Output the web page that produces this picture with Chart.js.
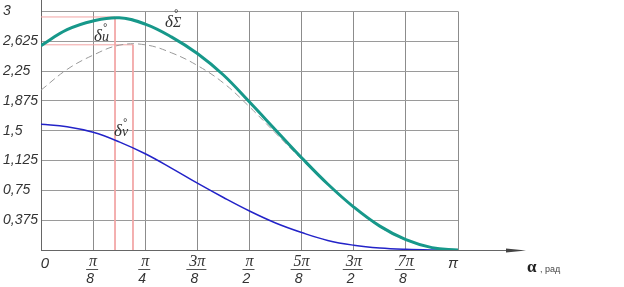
<!DOCTYPE html>
<html>
<head>
<meta charset="utf-8">
<script src="https://cdn.jsdelivr.net/npm/chart.js@4"></script>
<style>
  html, body { margin: 0; padding: 0; background: #fff; }
  #wrap { width: 624px; height: 287px; }
</style>
</head>
<body>
<div id="wrap"><canvas id="grafik"></canvas></div>
<script>
// angle alpha, in units of pi
const alpha = [0, 0.0625, 0.125, 0.1875, 0.25, 0.3125, 0.375, 0.4375, 0.5,
               0.5625, 0.625, 0.6875, 0.75, 0.8125, 0.875, 0.9375, 1];

const deltaSum = [2.57, 2.77, 2.88, 2.92, 2.84, 2.68, 2.47, 2.20, 1.86,
                  1.51, 1.16, 0.83, 0.54, 0.30, 0.13, 0.03, 0];
const deltaU   = [2.01, 2.27, 2.45, 2.575, 2.58, 2.48, 2.32, 2.10, 1.80,
                  1.47, 1.14, 0.82, 0.535, 0.29, 0.125, 0.03, 0];
const deltaV   = [1.58, 1.55, 1.48, 1.36, 1.21, 1.03, 0.84, 0.66, 0.49,
                  0.34, 0.22, 0.12, 0.06, 0.025, 0.008, 0.001, 0];

// pink helper lines to the maxima
const maxSum = [0.1775, 2.93];
const maxU   = [0.2206, 2.58];

// x ticks
const xTicks = [0, 0.125, 0.25, 0.375, 0.5, 0.625, 0.75, 0.875, 1];
const xNum   = ['0', 'π', 'π', '3π', 'π', '5π', '3π', '7π', 'π'];
const xDen   = ['', '8', '4', '8', '2', '8', '2', '8', ''];

// y ticks
const yTicks = [0, 0.375, 0.75, 1.125, 1.5, 1.875, 2.25, 2.625, 3];

function pts(ys) {
    return alpha.map(function(a, i) { return { x: a, y: ys[i] }; });
}

function helper(m) {
    return [{ x: 0, y: m[1] }, { x: m[0], y: m[1] }, { x: m[0], y: 0 }];
}

const decor =
{
    id: 'decor',
    afterDraw: function(chart)
    {
        const ctx = chart.ctx;
        const xs = chart.scales.x, ys = chart.scales.y;
        const area = chart.chartArea;
        const y0 = Math.round(ys.getPixelForValue(0)) + 0.5;

        ctx.save();

        // y axis goes a bit above the grid
        ctx.strokeStyle = '#666';
        ctx.lineWidth = 1;
        ctx.beginPath();
        ctx.moveTo(Math.round(area.left) + 0.5, area.top);
        ctx.lineTo(Math.round(area.left) + 0.5, 0);
        ctx.stroke();

        // x axis with arrow
        ctx.beginPath();
        ctx.moveTo(area.right, y0);
        ctx.lineTo(512, y0);
        ctx.stroke();
        ctx.fillStyle = '#444';
        ctx.beginPath();
        ctx.moveTo(526, y0);
        ctx.lineTo(506, y0 - 2);
        ctx.lineTo(506, y0 + 2);
        ctx.closePath();
        ctx.fill();

        // x tick labels as fractions
        ctx.fillStyle = '#333';
        ctx.strokeStyle = '#555';
        ctx.textAlign = 'center';
        ctx.textBaseline = 'alphabetic';
        for (let i = 0; i < xTicks.length; i++)
        {
            let px = xs.getPixelForValue(xTicks[i]);
            if (xDen[i] === '')
            {
                if (i === 0) px += 4; else px -= 5;
                ctx.font = 'italic 15px "Liberation Sans"';
                ctx.fillText(xNum[i], px, 268);
                continue;
            }
            ctx.font = 'italic 16px "Liberation Serif"';
            ctx.fillText(xNum[i], px, 266);
            const w = ctx.measureText(xNum[i]).width;
            ctx.beginPath();
            ctx.moveTo(px - w / 2 - 3, 269.5);
            ctx.lineTo(px + w / 2 + 1, 269.5);
            ctx.stroke();
            ctx.font = 'italic 14px "Liberation Sans"';
            ctx.fillText(xDen[i], px - 3, 283);
        }

        // axis title
        ctx.textAlign = 'left';
        ctx.fillStyle = '#222';
        ctx.font = 'bold 17px "Liberation Serif"';
        ctx.fillText('α', 527, 272);
        ctx.font = '9px "Liberation Sans"';
        ctx.fillStyle = '#444';
        ctx.fillText(', рад', 540, 272);

        // curve names
        function name(x, y, sub)
        {
            ctx.fillStyle = '#333';
            ctx.font = 'italic 17px "Liberation Serif"';
            ctx.fillText('δ', x, y);
            const w = ctx.measureText('δ').width;
            ctx.font = '11px "Liberation Sans"';
            ctx.fillText('°', x + w + 1, y - 10);
            ctx.font = 'italic 14px "Liberation Serif"';
            ctx.fillText(sub, x + w, y);
        }
        name(165, 27, 'Σ');
        name(94, 41, 'u');
        name(114, 136, 'v');

        ctx.restore();
    }
};

new Chart(document.getElementById('grafik'),
{
    type: 'line',
    data: {
        datasets: [
            {
                label: 'δΣ',
                data: pts(deltaSum),
                borderColor: '#17988a',
                borderWidth: 3,
                pointRadius: 0,
                tension: 0.4
            },
            {
                label: 'δv',
                data: pts(deltaV),
                borderColor: '#2323c8',
                borderWidth: 1.5,
                pointRadius: 0,
                tension: 0.4
            },
            {
                label: 'δu',
                data: pts(deltaU),
                borderColor: '#9a9a9a',
                borderWidth: 1,
                borderDash: [7, 4],
                pointRadius: 0,
                tension: 0.4
            },
            {
                label: 'max Σ',
                data: helper(maxSum),
                borderColor: '#f2a4a4',
                borderWidth: 1,
                pointRadius: 0,
                tension: 0
            },
            {
                label: 'max u',
                data: helper(maxU),
                borderColor: '#f2a4a4',
                borderWidth: 1,
                pointRadius: 0,
                tension: 0
            }
        ]
    },
    options: {
        responsive: true,
        maintainAspectRatio: false,
        animation: false,
        layout: { padding: { top: 7, right: 166, left: 3, bottom: 0 } },
        plugins: { legend: { display: false }, tooltip: { enabled: false } },
        scales: {
            x: {
                type: 'linear',
                min: 0,
                max: 1,
                afterBuildTicks: function(s) { s.ticks = xTicks.map(function(v) { return { value: v }; }); },
                afterFit: function(s) { s.height = 37; },
                ticks: { display: false },
                grid: { color: '#8c8c8c', lineWidth: 1, drawTicks: false },
                border: { color: '#666' }
            },
            y: {
                min: 0,
                max: 3,
                afterBuildTicks: function(s) { s.ticks = yTicks.map(function(v) { return { value: v }; }); },
                afterFit: function(s) { s.width = 38; },
                ticks: {
                    crossAlign: 'far',
                    padding: 3,
                    color: '#333',
                    font: { family: 'Liberation Sans', style: 'italic', size: 14 },
                    callback: function(v) { return v === 0 ? '' : String(v).replace('.', ','); }
                },
                grid: { color: '#9a9a9a', lineWidth: 1, drawTicks: false },
                border: { color: '#666' }
            }
        }
    },
    plugins: [decor]
});
</script>
</body>
</html>
